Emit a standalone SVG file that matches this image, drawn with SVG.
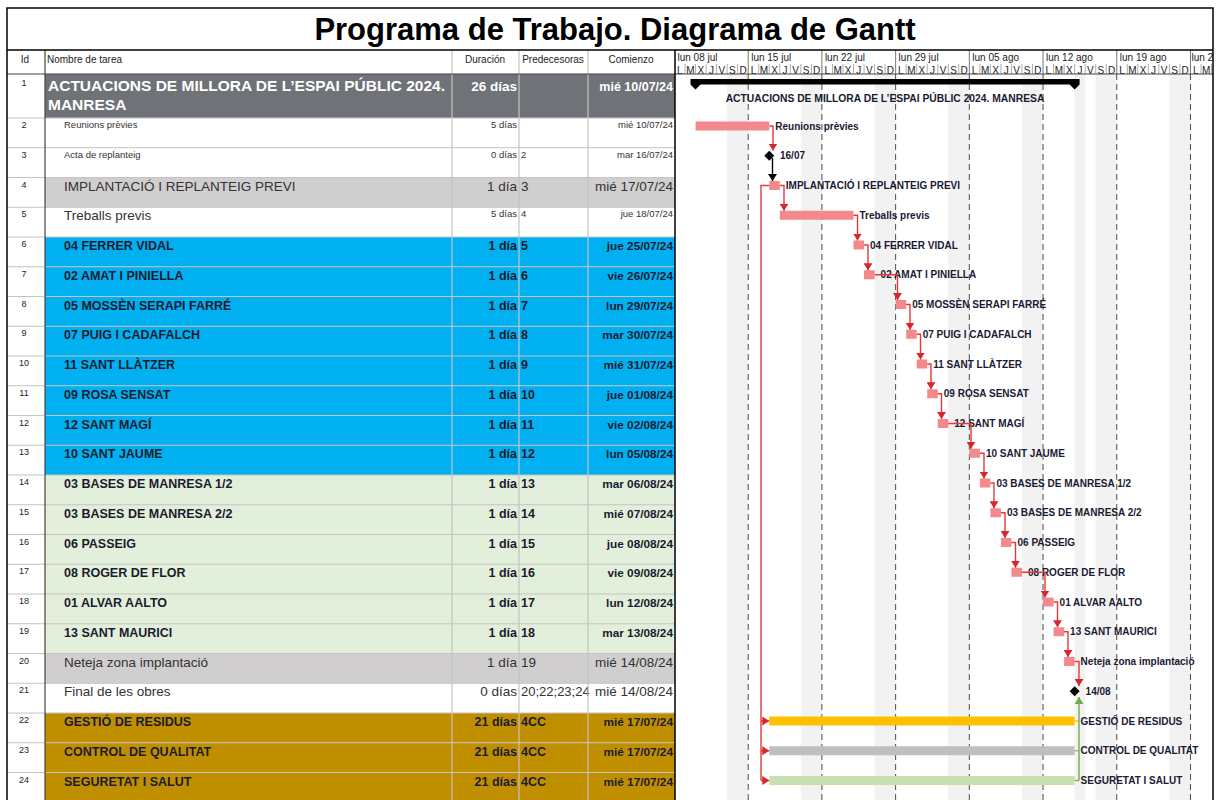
<svg xmlns="http://www.w3.org/2000/svg" width="1219" height="800" viewBox="0 0 1219 800">
<style>
text{font-family:"Liberation Sans",Arial,sans-serif}
.id{font-size:9px;text-anchor:middle;fill:#222}
.hd{font-size:10px;fill:#222}
.nm{font-size:13.5px;fill:#333}
.b{font-size:12.5px;font-weight:bold;fill:#1b1b2f}
.bd{font-size:11.8px;font-weight:bold;fill:#1b1b2f}
.sm{font-size:9.5px;fill:#333}
.r{text-anchor:end}
.m{text-anchor:middle}
.w{fill:#fff}
.lbl{font-size:10px;font-weight:bold;fill:#1a1a33}
.bar{fill:#F4898C}
.grid{stroke:#c4c4c4;stroke-width:1.2;fill:none}
.lnk{fill:none;stroke:#E5383B;stroke-width:1.4}
.g{fill:none;stroke:#70AD47;stroke-width:1.4}
.wk{font-size:10px;fill:#222}
</style>
<defs>
<marker id="ar" viewBox="0 0 7 9" refX="7" refY="4.5" markerWidth="7" markerHeight="9" markerUnits="userSpaceOnUse" orient="auto"><path d="M0,0 L7,4.5 L0,9 z" fill="#D9262B"/></marker>
<marker id="ak" viewBox="0 0 7 9" refX="7" refY="4.5" markerWidth="7" markerHeight="9" markerUnits="userSpaceOnUse" orient="auto"><path d="M0,0 L7,4.5 L0,9 z" fill="#000"/></marker>
<marker id="ag" viewBox="0 0 7 9" refX="7" refY="4.5" markerWidth="7" markerHeight="9" markerUnits="userSpaceOnUse" orient="auto"><path d="M0,0 L7,4.5 L0,9 z" fill="#70AD47"/></marker>
<clipPath id="cc"><rect x="675" y="50" width="538" height="750"/></clipPath>
</defs>

<rect x="0" y="0" width="1219" height="800" fill="#fff"/>

<g id="chart-bg" clip-path="url(#cc)">
<g fill="#f2f2f2">
<rect x="727.15" y="74" width="21.06" height="726"/>
<rect x="800.86" y="74" width="21.06" height="726"/>
<rect x="874.57" y="74" width="21.06" height="726"/>
<rect x="948.28" y="74" width="21.06" height="726"/>
<rect x="1021.99" y="74" width="21.06" height="726"/>
<rect x="1074.64" y="74" width="10.53" height="726"/>
<rect x="1095.7" y="74" width="21.06" height="726"/>
<rect x="1169.41" y="74" width="21.06" height="726"/>
</g>
<path d="M748.21,74V800M821.92,74V800M895.63,74V800M969.34,74V800M1043.05,74V800M1116.76,74V800M1190.47,74V800" stroke="#4d4d4d" stroke-width="1" stroke-dasharray="6,4" fill="none"/>
</g>

<g id="title">
<text x="615" y="40" class="m" style="font-size:31px;font-weight:bold;fill:#000">Programa de Trabajo. Diagrama de Gantt</text>
</g>

<g id="table-header">
<text x="25" y="63" class="hd m">Id</text>
<text x="47" y="63" class="hd">Nombre de tarea</text>
<text x="485" y="63" class="hd m">Duración</text>
<text x="553" y="63" class="hd m">Predecesoras</text>
<text x="631" y="63" class="hd m">Comienzo</text>
</g>

<g id="timescale">
<g class="wk">
<text x="677.5" y="61">lun 08 jul</text>
<text x="751.2" y="61">lun 15 jul</text>
<text x="824.9" y="61">lun 22 jul</text>
<text x="898.6" y="61">lun 29 jul</text>
<text x="972.3" y="61">lun 05 ago</text>
<text x="1046" y="61">lun 12 ago</text>
<text x="1119.8" y="61">lun 19 ago</text>
<text x="1191.5" y="61">lun 2</text>
</g>
<g class="wk m">
<text y="73.5" x="679.8 690.3 700.8 711.4 721.9 732.4 743">LMXJVSD</text>
<text y="73.5" x="753.5 764 774.5 785.1 795.6 806.1 816.7">LMXJVSD</text>
<text y="73.5" x="827.2 837.7 848.2 858.8 869.3 879.8 890.4">LMXJVSD</text>
<text y="73.5" x="900.9 911.4 921.9 932.5 943 953.5 964.1">LMXJVSD</text>
<text y="73.5" x="974.6 985.1 995.7 1006.2 1016.7 1027.2 1037.8">LMXJVSD</text>
<text y="73.5" x="1048.3 1058.8 1069.4 1079.9 1090.4 1100.9 1111.5">LMXJVSD</text>
<text y="73.5" x="1122 1132.5 1143.1 1153.6 1164.1 1174.7 1185.2">LMXJVSD</text>
<text y="73.5" x="1195.7 1206.2">LM</text>
</g>
<path d="M685.03,64V74M695.56,64V74M706.09,64V74M716.62,64V74M727.15,64V74M737.68,64V74M758.74,64V74M769.27,64V74M779.8,64V74M790.33,64V74M800.86,64V74M811.39,64V74M832.45,64V74M842.98,64V74M853.51,64V74M864.04,64V74M874.57,64V74M885.1,64V74M906.16,64V74M916.69,64V74M927.22,64V74M937.75,64V74M948.28,64V74M958.81,64V74M979.87,64V74M990.4,64V74M1000.93,64V74M1011.46,64V74M1021.99,64V74M1032.52,64V74M1053.58,64V74M1064.11,64V74M1074.64,64V74M1085.17,64V74M1095.7,64V74M1106.23,64V74M1127.29,64V74M1137.82,64V74M1148.35,64V74M1158.88,64V74M1169.41,64V74M1179.94,64V74M1201,64V74M1211.53,64V74" stroke="#999" stroke-width="0.8" fill="none"/>
<path d="M748.21,50V74M821.92,50V74M895.63,50V74M969.34,50V74M1043.05,50V74M1116.76,50V74M1190.47,50V74" stroke="#777" stroke-width="1" fill="none"/>
</g>

<g id="row1">
<rect x="45" y="74" width="630" height="44" fill="#6F7378"/>
<text x="24" y="86" class="id">1</text>
<text x="48" y="91" class="w" style="font-size:15.5px;font-weight:bold">ACTUACIONS DE MILLORA DE L’ESPAI PÚBLIC 2024.</text>
<text x="48" y="110" class="w" style="font-size:15.5px;font-weight:bold">MANRESA</text>
<text x="517" y="91" class="w r" style="font-size:13.5px;font-weight:bold">26 días</text>
<text x="673" y="91" class="w r" style="font-size:12.5px;font-weight:bold">mié 10/07/24</text>
<rect x="695.56" y="79" width="379.08" height="5.5" fill="#000"/>
<path d="M690.5,79h10v5.5l-5,5l-5,-5z M1069.6,79h10v5.5l-5,5l-5,-5z" fill="#000"/>
<text x="885" y="101.5" class="lbl m" style="font-size:10.3px">ACTUACIONS DE MILLORA DE L’ESPAI PÚBLIC 2024. MANRESA</text>
</g>

<g id="row2" transform="translate(0,118)">
<text x="24" y="10" class="id">2</text>
<text x="64" y="10" class="sm">Reunions prèvies</text>
<text x="517" y="10" class="sm r">5 días</text>
<text x="673" y="10" class="sm r">mié 10/07/24</text>
<rect x="695.56" y="3.5" width="73.71" height="9" class="bar"/>
<text x="775.3" y="11.5" class="lbl">Reunions prèvies</text>
</g>

<g id="row3" transform="translate(0,147.75)">
<text x="24" y="10" class="id">3</text>
<text x="64" y="10" class="sm">Acta de replanteig</text>
<text x="517" y="10" class="sm r">0 días</text>
<text x="521" y="10" class="sm">2</text>
<text x="673" y="10" class="sm r">mar 16/07/24</text>
<path d="M769.27,3l5,5l-5,5l-5,-5z" fill="#000"/>
<text x="780" y="11.5" class="lbl">16/07</text>
</g>

<g id="row4" transform="translate(0,177.5)">
<rect x="45" y="0" width="630" height="29.75" fill="#D0CECE"/>
<text x="24" y="10" class="id">4</text>
<text x="64" y="13" class="nm">IMPLANTACIÓ I REPLANTEIG PREVI</text>
<text x="517" y="13" class="nm r">1 día</text>
<text x="521" y="13" class="nm">3</text>
<text x="673" y="13" class="nm r">mié 17/07/24</text>
<rect x="769.27" y="3.5" width="10.53" height="9" class="bar"/>
<text x="785.8" y="11.5" class="lbl">IMPLANTACIÓ I REPLANTEIG PREVI</text>
</g>

<g id="row5" transform="translate(0,207.25)">
<text x="24" y="10" class="id">5</text>
<text x="64" y="13" class="nm">Treballs previs</text>
<text x="517" y="10" class="sm r">5 días</text>
<text x="521" y="10" class="sm">4</text>
<text x="673" y="10" class="sm r">jue 18/07/24</text>
<rect x="779.8" y="3.5" width="73.71" height="9" class="bar"/>
<text x="859.5" y="11.5" class="lbl">Treballs previs</text>
</g>

<g id="row6" transform="translate(0,237)">
<rect x="45" y="0" width="630" height="29.75" fill="#00B0F0"/>
<text x="24" y="10" class="id">6</text>
<text x="64" y="13" class="b">04 FERRER VIDAL</text>
<text x="517" y="13" class="b r">1 día</text>
<text x="521" y="13" class="b">5</text>
<text x="673" y="13" class="bd r">jue 25/07/24</text>
<rect x="853.51" y="3.5" width="10.53" height="9" class="bar"/>
<text x="870" y="11.5" class="lbl">04 FERRER VIDAL</text>
</g>

<g id="row7" transform="translate(0,266.75)">
<rect x="45" y="0" width="630" height="29.75" fill="#00B0F0"/>
<text x="24" y="10" class="id">7</text>
<text x="64" y="13" class="b">02 AMAT I PINIELLA</text>
<text x="517" y="13" class="b r">1 día</text>
<text x="521" y="13" class="b">6</text>
<text x="673" y="13" class="bd r">vie 26/07/24</text>
<rect x="864.04" y="3.5" width="10.53" height="9" class="bar"/>
<text x="880.6" y="11.5" class="lbl">02 AMAT I PINIELLA</text>
</g>

<g id="row8" transform="translate(0,296.5)">
<rect x="45" y="0" width="630" height="29.75" fill="#00B0F0"/>
<text x="24" y="10" class="id">8</text>
<text x="64" y="13" class="b">05 MOSSÈN SERAPI FARRÉ</text>
<text x="517" y="13" class="b r">1 día</text>
<text x="521" y="13" class="b">7</text>
<text x="673" y="13" class="bd r">lun 29/07/24</text>
<rect x="895.63" y="3.5" width="10.53" height="9" class="bar"/>
<text x="912.2" y="11.5" class="lbl">05 MOSSÈN SERAPI FARRÉ</text>
</g>

<g id="row9" transform="translate(0,326.25)">
<rect x="45" y="0" width="630" height="29.75" fill="#00B0F0"/>
<text x="24" y="10" class="id">9</text>
<text x="64" y="13" class="b">07 PUIG I CADAFALCH</text>
<text x="517" y="13" class="b r">1 día</text>
<text x="521" y="13" class="b">8</text>
<text x="673" y="13" class="bd r">mar 30/07/24</text>
<rect x="906.16" y="3.5" width="10.53" height="9" class="bar"/>
<text x="922.7" y="11.5" class="lbl">07 PUIG I CADAFALCH</text>
</g>

<g id="row10" transform="translate(0,356)">
<rect x="45" y="0" width="630" height="29.75" fill="#00B0F0"/>
<text x="24" y="10" class="id">10</text>
<text x="64" y="13" class="b">11 SANT LLÀTZER</text>
<text x="517" y="13" class="b r">1 día</text>
<text x="521" y="13" class="b">9</text>
<text x="673" y="13" class="bd r">mié 31/07/24</text>
<rect x="916.69" y="3.5" width="10.53" height="9" class="bar"/>
<text x="933.2" y="11.5" class="lbl">11 SANT LLÀTZER</text>
</g>

<g id="row11" transform="translate(0,385.75)">
<rect x="45" y="0" width="630" height="29.75" fill="#00B0F0"/>
<text x="24" y="10" class="id">11</text>
<text x="64" y="13" class="b">09 ROSA SENSAT</text>
<text x="517" y="13" class="b r">1 día</text>
<text x="521" y="13" class="b">10</text>
<text x="673" y="13" class="bd r">jue 01/08/24</text>
<rect x="927.22" y="3.5" width="10.53" height="9" class="bar"/>
<text x="943.8" y="11.5" class="lbl">09 ROSA SENSAT</text>
</g>

<g id="row12" transform="translate(0,415.5)">
<rect x="45" y="0" width="630" height="29.75" fill="#00B0F0"/>
<text x="24" y="10" class="id">12</text>
<text x="64" y="13" class="b">12 SANT MAGÍ</text>
<text x="517" y="13" class="b r">1 día</text>
<text x="521" y="13" class="b">11</text>
<text x="673" y="13" class="bd r">vie 02/08/24</text>
<rect x="937.75" y="3.5" width="10.53" height="9" class="bar"/>
<text x="954.3" y="11.5" class="lbl">12 SANT MAGÍ</text>
</g>

<g id="row13" transform="translate(0,445.25)">
<rect x="45" y="0" width="630" height="29.75" fill="#00B0F0"/>
<text x="24" y="10" class="id">13</text>
<text x="64" y="13" class="b">10 SANT JAUME</text>
<text x="517" y="13" class="b r">1 día</text>
<text x="521" y="13" class="b">12</text>
<text x="673" y="13" class="bd r">lun 05/08/24</text>
<rect x="969.34" y="3.5" width="10.53" height="9" class="bar"/>
<text x="985.9" y="11.5" class="lbl">10 SANT JAUME</text>
</g>

<g id="row14" transform="translate(0,475)">
<rect x="45" y="0" width="630" height="29.75" fill="#E2EFDA"/>
<text x="24" y="10" class="id">14</text>
<text x="64" y="13" class="b">03 BASES DE MANRESA 1/2</text>
<text x="517" y="13" class="b r">1 día</text>
<text x="521" y="13" class="b">13</text>
<text x="673" y="13" class="bd r">mar 06/08/24</text>
<rect x="979.87" y="3.5" width="10.53" height="9" class="bar"/>
<text x="996.4" y="11.5" class="lbl">03 BASES DE MANRESA 1/2</text>
</g>

<g id="row15" transform="translate(0,504.75)">
<rect x="45" y="0" width="630" height="29.75" fill="#E2EFDA"/>
<text x="24" y="10" class="id">15</text>
<text x="64" y="13" class="b">03 BASES DE MANRESA 2/2</text>
<text x="517" y="13" class="b r">1 día</text>
<text x="521" y="13" class="b">14</text>
<text x="673" y="13" class="bd r">mié 07/08/24</text>
<rect x="990.4" y="3.5" width="10.53" height="9" class="bar"/>
<text x="1006.9" y="11.5" class="lbl">03 BASES DE MANRESA 2/2</text>
</g>

<g id="row16" transform="translate(0,534.5)">
<rect x="45" y="0" width="630" height="29.75" fill="#E2EFDA"/>
<text x="24" y="10" class="id">16</text>
<text x="64" y="13" class="b">06 PASSEIG</text>
<text x="517" y="13" class="b r">1 día</text>
<text x="521" y="13" class="b">15</text>
<text x="673" y="13" class="bd r">jue 08/08/24</text>
<rect x="1000.93" y="3.5" width="10.53" height="9" class="bar"/>
<text x="1017.5" y="11.5" class="lbl">06 PASSEIG</text>
</g>

<g id="row17" transform="translate(0,564.25)">
<rect x="45" y="0" width="630" height="29.75" fill="#E2EFDA"/>
<text x="24" y="10" class="id">17</text>
<text x="64" y="13" class="b">08 ROGER DE FLOR</text>
<text x="517" y="13" class="b r">1 día</text>
<text x="521" y="13" class="b">16</text>
<text x="673" y="13" class="bd r">vie 09/08/24</text>
<rect x="1011.46" y="3.5" width="10.53" height="9" class="bar"/>
<text x="1028" y="11.5" class="lbl">08 ROGER DE FLOR</text>
</g>

<g id="row18" transform="translate(0,594)">
<rect x="45" y="0" width="630" height="29.75" fill="#E2EFDA"/>
<text x="24" y="10" class="id">18</text>
<text x="64" y="13" class="b">01 ALVAR AALTO</text>
<text x="517" y="13" class="b r">1 día</text>
<text x="521" y="13" class="b">17</text>
<text x="673" y="13" class="bd r">lun 12/08/24</text>
<rect x="1043.05" y="3.5" width="10.53" height="9" class="bar"/>
<text x="1059.6" y="11.5" class="lbl">01 ALVAR AALTO</text>
</g>

<g id="row19" transform="translate(0,623.75)">
<rect x="45" y="0" width="630" height="29.75" fill="#E2EFDA"/>
<text x="24" y="10" class="id">19</text>
<text x="64" y="13" class="b">13 SANT MAURICI</text>
<text x="517" y="13" class="b r">1 día</text>
<text x="521" y="13" class="b">18</text>
<text x="673" y="13" class="bd r">mar 13/08/24</text>
<rect x="1053.58" y="3.5" width="10.53" height="9" class="bar"/>
<text x="1070.1" y="11.5" class="lbl">13 SANT MAURICI</text>
</g>

<g id="row20" transform="translate(0,653.5)">
<rect x="45" y="0" width="630" height="29.75" fill="#D0CECE"/>
<text x="24" y="10" class="id">20</text>
<text x="64" y="13" class="nm">Neteja zona implantació</text>
<text x="517" y="13" class="nm r">1 día</text>
<text x="521" y="13" class="nm">19</text>
<text x="673" y="13" class="nm r">mié 14/08/24</text>
<rect x="1064.11" y="3.5" width="10.53" height="9" class="bar"/>
<text x="1080.6" y="11.5" class="lbl">Neteja zona implantació</text>
</g>

<g id="row21" transform="translate(0,683.25)">
<text x="24" y="10" class="id">21</text>
<text x="64" y="13" class="nm">Final de les obres</text>
<text x="517" y="13" class="nm r">0 días</text>
<text x="521" y="13" class="nm" style="font-size:13px">20;22;23;24</text>
<text x="673" y="13" class="nm r">mié 14/08/24</text>
<path d="M1074.64,3l5,5l-5,5l-5,-5z" fill="#000"/>
<text x="1085.6" y="11.5" class="lbl">14/08</text>
</g>

<g id="row22" transform="translate(0,713)">
<rect x="45" y="0" width="630" height="29.75" fill="#BF8F00"/>
<text x="24" y="10" class="id">22</text>
<text x="64" y="13" class="b">GESTIÓ DE RESIDUS</text>
<text x="517" y="13" class="b r">21 días</text>
<text x="521" y="13" class="b">4CC</text>
<text x="673" y="13" class="bd r">mié 17/07/24</text>
<rect x="769.27" y="3.5" width="305.37" height="9" fill="#FFC000"/>
<text x="1080.6" y="11.5" class="lbl">GESTIÓ DE RESIDUS</text>
</g>

<g id="row23" transform="translate(0,742.75)">
<rect x="45" y="0" width="630" height="29.75" fill="#BF8F00"/>
<text x="24" y="10" class="id">23</text>
<text x="64" y="13" class="b">CONTROL DE QUALITAT</text>
<text x="517" y="13" class="b r">21 días</text>
<text x="521" y="13" class="b">4CC</text>
<text x="673" y="13" class="bd r">mié 17/07/24</text>
<rect x="769.27" y="3.5" width="305.37" height="9" fill="#BFBFBF"/>
<text x="1080.6" y="11.5" class="lbl">CONTROL DE QUALITAT</text>
</g>

<g id="row24" transform="translate(0,772.5)">
<rect x="45" y="0" width="630" height="29.75" fill="#BF8F00"/>
<text x="24" y="10" class="id">24</text>
<text x="64" y="13" class="b">SEGURETAT I SALUT</text>
<text x="517" y="13" class="b r">21 días</text>
<text x="521" y="13" class="b">4CC</text>
<text x="673" y="13" class="bd r">mié 17/07/24</text>
<rect x="769.27" y="3.5" width="305.37" height="9" fill="#C6E0B4"/>
<text x="1080.6" y="11.5" class="lbl">SEGURETAT I SALUT</text>
</g>

<g id="grid">
<path class="grid" d="M7,118H675M7,147.75H675M7,177.5H675M7,207.25H675M7,237H675M7,266.75H675M7,296.5H675M7,326.25H675M7,356H675M7,385.75H675M7,415.5H675M7,445.25H675M7,475H675M7,504.75H675M7,534.5H675M7,564.25H675M7,594H675M7,623.75H675M7,653.5H675M7,683.25H675M7,713H675M7,742.75H675M7,772.5H675M452,50V800M519,50V800M588,50V800"/>
<path d="M45,50V800M7,74H1213" stroke="#444" stroke-width="1.2" fill="none"/>
<path d="M675,50V800" stroke="#000" stroke-width="1.5" fill="none"/>
<rect x="7" y="8" width="1206" height="800" fill="none" stroke="#000" stroke-width="1.5"/>
<path d="M7,50H1213" stroke="#000" stroke-width="1.5" fill="none"/>
</g>

<g id="connectors">
<path class="lnk" marker-end="url(#ar)" d="M769.27,126H773V150.5"/>
<path fill="none" stroke="#000" stroke-width="1.4" marker-end="url(#ak)" d="M772.5,158V181"/>
<path class="lnk" marker-end="url(#ar)" d="M779.8,185.5H784V210.75"/>
<path class="lnk" marker-end="url(#ar)" d="M853.51,215.25H857.5V240.5"/>
<path class="lnk" marker-end="url(#ar)" d="M864.04,245H868V270.25"/>
<path class="lnk" marker-end="url(#ar)" d="M874.57,274.75H897.5V300"/>
<path class="lnk" marker-end="url(#ar)" d="M906.16,304.5H910V329.75"/>
<path class="lnk" marker-end="url(#ar)" d="M916.69,334.25H920.5V359.5"/>
<path class="lnk" marker-end="url(#ar)" d="M927.22,364H931V389.25"/>
<path class="lnk" marker-end="url(#ar)" d="M937.75,393.75H941.5V419"/>
<path class="lnk" marker-end="url(#ar)" d="M948.28,423.5H971V448.75"/>
<path class="lnk" marker-end="url(#ar)" d="M979.87,453.25H984V478.5"/>
<path class="lnk" marker-end="url(#ar)" d="M990.4,483H994V508.25"/>
<path class="lnk" marker-end="url(#ar)" d="M1000.93,512.75H1005V538"/>
<path class="lnk" marker-end="url(#ar)" d="M1011.46,542.5H1015.5V567.75"/>
<path class="lnk" marker-end="url(#ar)" d="M1021.99,572.25H1045V597.5"/>
<path class="lnk" marker-end="url(#ar)" d="M1053.58,602H1057.5V627.25"/>
<path class="lnk" marker-end="url(#ar)" d="M1064.11,631.75H1068V657"/>
<path class="lnk" marker-end="url(#ar)" d="M1074.64,661.5H1079V686"/>
<path class="lnk" d="M769.27,185.5H761V780.5"/>
<path class="lnk" marker-end="url(#ar)" d="M761,721H769.27"/>
<path class="lnk" marker-end="url(#ar)" d="M761,750.75H769.27"/>
<path class="lnk" marker-end="url(#ar)" d="M761,780.5H769.27"/>
<path fill="none" stroke="#FFC000" stroke-width="1.4" d="M1074.64,721H1079"/>
<path fill="none" stroke="#A6A6A6" stroke-width="1.4" d="M1074.64,750.75H1079"/>
<path class="g" d="M1074.64,780.5H1079"/>
<path class="g" marker-end="url(#ag)" d="M1079,780.5V697"/>
</g>
</svg>
